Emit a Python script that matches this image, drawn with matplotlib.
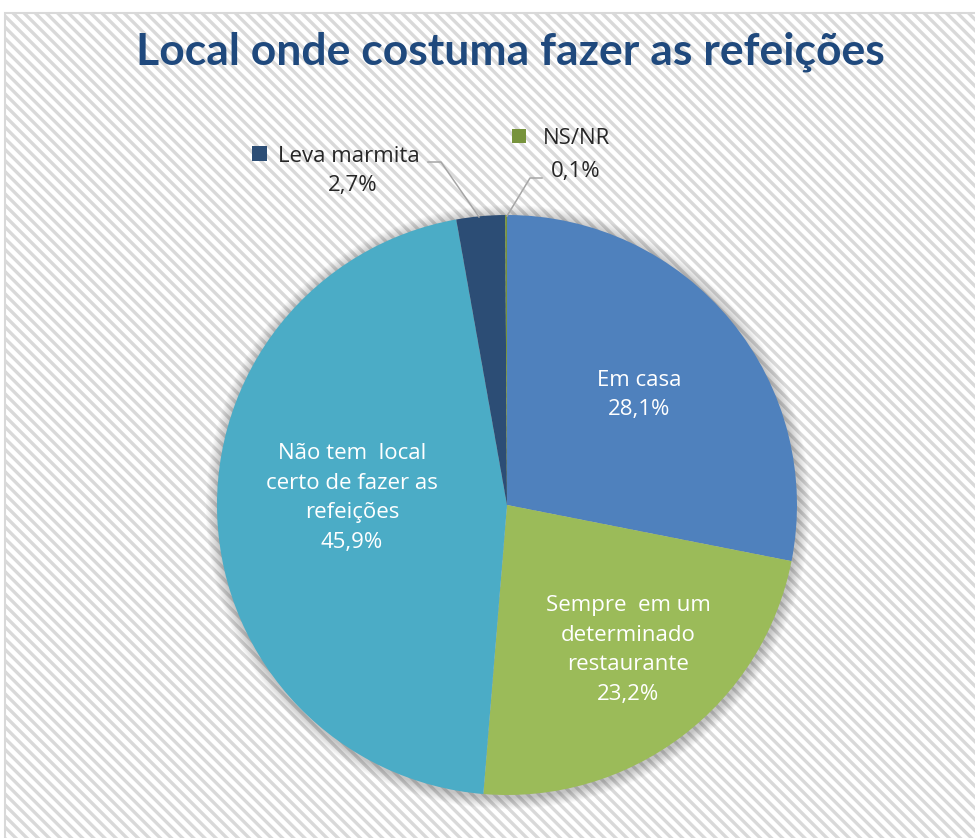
import matplotlib
matplotlib.use("Agg")
import matplotlib.pyplot as plt
from matplotlib.patches import Rectangle, Circle

# share of respondents by usual place of eating
categories = ["Em casa", "Sempre  em um\ndeterminado\nrestaurante",
              "Não tem  local\ncerto de fazer as\nrefeições",
              "Leva marmita", "NS/NR"]
shares = [28.1, 23.2, 45.9, 2.7, 0.1]
pct_labels = ["28,1%", "23,2%", "45,9%", "2,7%", "0,1%"]
colors = ["#4F81BD", "#9BBB59", "#4BACC6", "#2C4D75", "#77933C"]

W, H = 975, 838
plt.rcParams["font.family"] = ["Open Sans", "DejaVu Sans"]
plt.rcParams["hatch.linewidth"] = 2.4
plt.rcParams["hatch.color"] = "#f5f5f5"

fig = plt.figure(figsize=(W / 100, H / 100), dpi=100)
ax = fig.add_axes([0, 0, 1, 1])


def px(x, y):
    # image pixel (origin top-left) -> axes data
    return x, H - y


# chart area with the striped fill and a thin border on the visible sides
ax.add_patch(Rectangle(px(5, H + 10), W + 10, H - 3, facecolor="white",
                       edgecolor="#d9d9d9", hatch="\\\\\\", lw=1.5, zorder=0))

cx, cy = px(507, 505)
r = 290

# soft shadow round the pie
for i in range(12):
    ax.add_patch(Circle((cx + 1, cy - 2), r + 12 - i, facecolor="#000000",
                        alpha=0.02, lw=0, zorder=1))

ax.pie(shares, colors=colors, startangle=90, counterclock=False,
       center=(cx, cy), radius=r, frame=True,
       wedgeprops=dict(linewidth=0, zorder=2))
ax.set_xlim(0, W)
ax.set_ylim(0, H)
ax.set_aspect("equal")
ax.axis("off")

ax.text(*px(510, 52), "Local onde costuma fazer as refeições", ha="center",
        va="center", fontsize=32, fontweight="bold", color="#1F497D",
        family=["Lato", "DejaVu Sans"])

# labels inside the big slices
fs = 16
inside = [(639, 395), (628, 650), (352, 498)]
for (x, y), cat, pct in zip(inside, categories[:3], pct_labels[:3]):
    ax.text(*px(x, y), f"{cat}\n{pct}", ha="center", va="center",
            fontsize=fs, color="white", linespacing=1.55, zorder=5)

# outside labels with leader lines for the small slices
lbl = "#262626"
ax.add_patch(Rectangle(px(252, 161), 15, 15, facecolor=colors[3], lw=0, zorder=5))
ax.text(*px(278, 156), categories[3], ha="left", va="center", fontsize=fs,
        color=lbl, zorder=5)
ax.text(*px(353, 186), pct_labels[3], ha="center", va="center", fontsize=fs,
        color=lbl, zorder=5)
ax.plot(*zip(px(428, 162), px(441, 162), px(479, 217)), color="#a6a6a6",
        lw=1.1, zorder=4)

ax.add_patch(Rectangle(px(512, 143), 14, 14, facecolor=colors[4], lw=0, zorder=5))
ax.text(*px(543, 139), categories[4], ha="left", va="center", fontsize=fs,
        color=lbl, zorder=5)
ax.text(*px(576, 171), pct_labels[4], ha="center", va="center", fontsize=fs,
        color=lbl, zorder=5)
ax.plot(*zip(px(542, 178), px(530, 178), px(507, 216)), color="#a6a6a6",
        lw=1.1, zorder=4)

fig.savefig("out.png", dpi=100, facecolor="white")
